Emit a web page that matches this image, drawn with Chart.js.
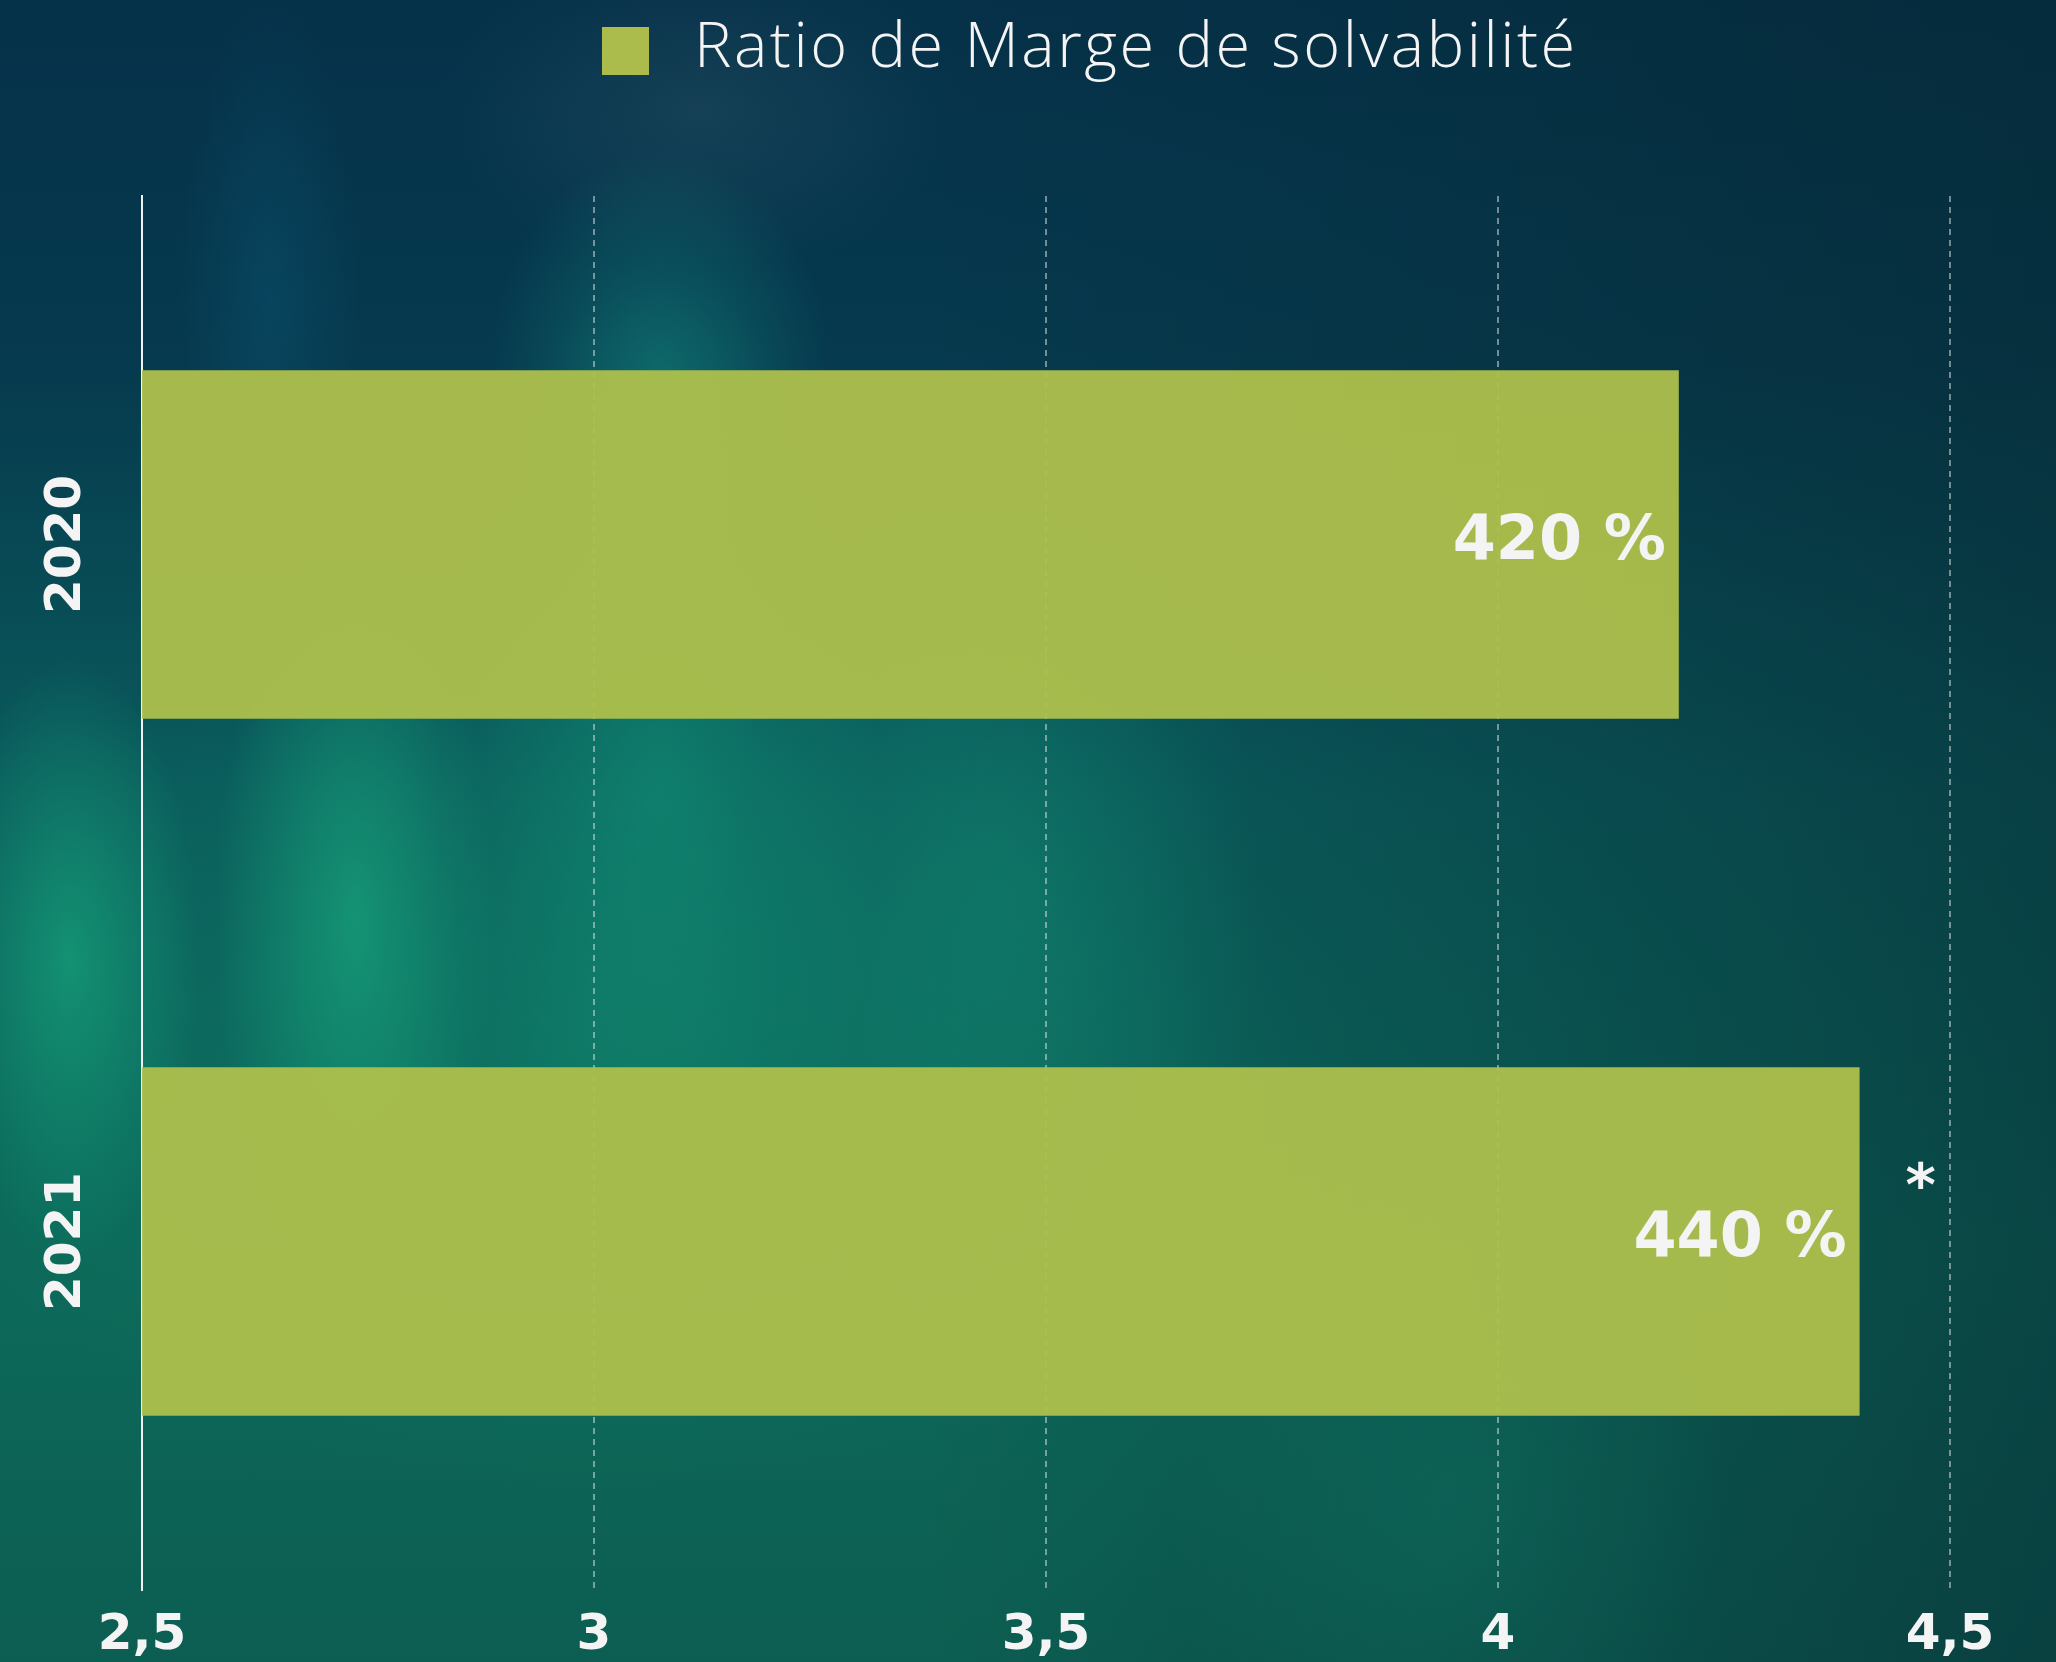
<!DOCTYPE html>
<html lang="fr">
<head>
<meta charset="utf-8">
<title>Ratio de Marge de solvabilité</title>
<script src="https://cdn.jsdelivr.net/npm/chart.js@4"></script>
<style>
  html, body {
    margin: 0;
    padding: 0;
    width: 2056px;
    height: 1662px;
    overflow: hidden;
  }
  body {
    background:
      radial-gradient(ellipse 140px 380px at 355px 920px, rgba(24, 165, 125, 0.7), rgba(24, 165, 125, 0) 100%),
      radial-gradient(ellipse 130px 300px at 70px 960px, rgba(22, 160, 122, 0.75), rgba(22, 160, 122, 0) 100%),
      radial-gradient(ellipse 220px 520px at 660px 800px, rgba(18, 150, 120, 0.55), rgba(18, 150, 120, 0) 100%),
      radial-gradient(ellipse 170px 220px at 660px 370px, rgba(20, 140, 130, 0.5), rgba(20, 140, 130, 0) 100%),
      radial-gradient(ellipse 260px 480px at 1000px 900px, rgba(18, 140, 115, 0.45), rgba(18, 140, 115, 0) 100%),
      radial-gradient(ellipse 700px 450px at 600px 1050px, rgba(16, 130, 105, 0.45), rgba(16, 130, 105, 0) 100%),
      radial-gradient(ellipse 280px 380px at 1450px 1500px, rgba(16, 120, 100, 0.35), rgba(16, 120, 100, 0) 100%),
      radial-gradient(ellipse 260px 160px at 700px 110px, rgba(40, 80, 100, 0.45), rgba(40, 80, 100, 0) 100%),
      radial-gradient(ellipse 90px 300px at 270px 300px, rgba(10, 80, 110, 0.5), rgba(10, 80, 110, 0) 100%),
      linear-gradient(90deg, rgba(6, 40, 50, 0) 45%, rgba(6, 40, 50, 0.55) 100%),
      linear-gradient(180deg, #053149 0%, #063a4e 22%, #0a5c5c 48%, #0c6a5a 75%, #0c5e52 100%);
  }
  #wrap {
    position: absolute;
    left: 0;
    top: 0;
    width: 2056px;
    height: 1662px;
  }
</style>
</head>
<body>
<div id="wrap"><canvas id="solvChart" width="2056" height="1662"></canvas></div>
<script>
  // Chart data
  const categories = ["2020", "2021"];
  const ratioValues = [4.2, 4.4];
  const valueLabels = ["420 %", "440 %"];
  const notes = ["", "*"];
  const seriesName = "Ratio de Marge de solvabilité";
  const axisMin = 2.5;
  const axisMax = 4.5;
  const axisStep = 0.5;

  const barColor = "rgba(174, 192, 76, 0.95)";
  const textColor = "#f4f4f4";
  const boldFont = "'DejaVu Sans', 'Noto Sans', sans-serif";

  // Legend at the top, drawn by hand so it can sit where the original does
  const legendPlugin = {
    id: "topLegend",
    afterDraw(chart) {
      const ctx = chart.ctx;
      ctx.save();
      ctx.fillStyle = "#acbc4c";
      ctx.fillRect(602, 27, 47, 48);
      ctx.fillStyle = textColor;
      ctx.font = "300 63px 'Open Sans', Lato, sans-serif";
      ctx.textAlign = "left";
      ctx.textBaseline = "middle";
      // stretch the text to the width it has in the original
      const w = ctx.measureText(seriesName).width;
      const spacing = (881 - w) / (seriesName.length - 1);
      if ("letterSpacing" in ctx) ctx.letterSpacing = spacing.toFixed(2) + "px";
      ctx.fillText(seriesName, 694, 49);
      ctx.restore();
    },
  };

  // Rotated year labels on the category axis
  const yearLabelPlugin = {
    id: "yearLabels",
    afterDraw(chart) {
      const ctx = chart.ctx;
      const yScale = chart.scales.y;
      ctx.save();
      ctx.fillStyle = textColor;
      ctx.font = "bold 50px " + boldFont;
      ctx.textAlign = "center";
      ctx.textBaseline = "middle";
      categories.forEach((cat, i) => {
        const y = yScale.getPixelForValue(i);
        ctx.save();
        ctx.translate(67, y);
        ctx.rotate(-Math.PI / 2);
        ctx.fillText(cat, 0, 0);
        ctx.restore();
      });
      ctx.restore();
    },
  };

  // Value labels inside the bar ends, plus the footnote star
  const valueLabelPlugin = {
    id: "valueLabels",
    afterDatasetsDraw(chart) {
      const ctx = chart.ctx;
      const meta = chart.getDatasetMeta(0);
      ctx.save();
      ctx.fillStyle = textColor;
      meta.data.forEach((bar, i) => {
        ctx.font = "bold 62px " + boldFont;
        ctx.textAlign = "right";
        ctx.textBaseline = "middle";
        ctx.fillText(valueLabels[i], bar.x - 13, bar.y - 2);
        if (notes[i]) {
          ctx.font = "bold 58px " + boldFont;
          ctx.textAlign = "center";
          ctx.fillText(notes[i], bar.x + 61, bar.y - 52);
        }
      });
      ctx.restore();
    },
  };

  const ctx = document.getElementById("solvChart").getContext("2d");

  new Chart(ctx, {
    type: "bar",
    data: {
      labels: categories,
      datasets: [
        {
          label: seriesName,
          data: ratioValues,
          backgroundColor: barColor,
          borderWidth: 0,
          barPercentage: 0.5,
          categoryPercentage: 1,
        },
      ],
    },
    options: {
      indexAxis: "y",
      responsive: false,
      animation: false,
      devicePixelRatio: 1,
      layout: {
        padding: { top: 196, right: 106, bottom: 0, left: 0 },
      },
      plugins: {
        legend: { display: false },
        tooltip: { enabled: false },
      },
      scales: {
        x: {
          min: axisMin,
          max: axisMax,
          afterFit(scale) {
            scale.height = 72;
          },
          ticks: {
            stepSize: axisStep,
            color: textColor,
            padding: 16,
            font: { family: boldFont, size: 50, weight: "bold" },
            callback: function (value) {
              return String(value).replace(".", ",");
            },
          },
          grid: {
            color: "rgba(225, 230, 230, 0.5)",
            lineWidth: 2,
            tickLength: 0,
          },
          border: {
            display: false,
            dash: [6, 5],
          },
        },
        y: {
          afterFit(scale) {
            scale.width = 142;
          },
          ticks: { display: false },
          grid: { display: false },
          border: {
            display: true,
            color: "#f2f2f2",
            width: 2,
          },
        },
      },
    },
    plugins: [legendPlugin, yearLabelPlugin, valueLabelPlugin],
  });
</script>
</body>
</html>
